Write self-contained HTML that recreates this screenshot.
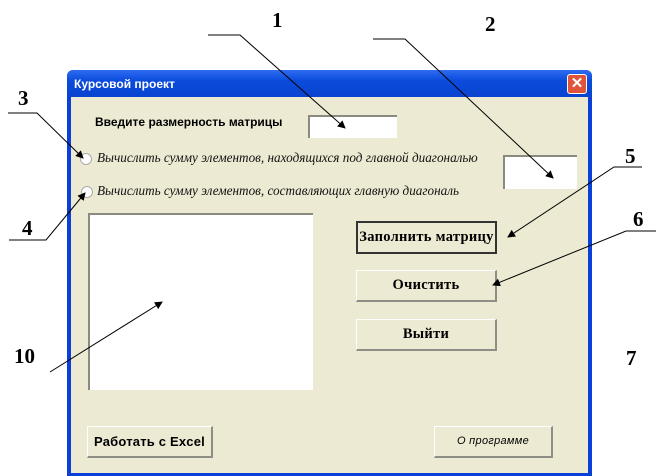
<!DOCTYPE html>
<html><head><meta charset="utf-8"><style>
*{margin:0;padding:0;box-sizing:border-box}
body{width:656px;height:476px;background:#fff;position:relative;overflow:hidden;font-family:"Liberation Sans",sans-serif}
.a{position:absolute}
#win{left:67px;top:70px;width:525px;height:406px;background:#0a3fd8;border-radius:6px 6px 0 0}
#title{left:67px;top:70px;width:525px;height:27px;background:linear-gradient(#2e6cf0,#0b4bdc 40%,#0a44d0);border-radius:6px 6px 0 0}
#body{left:71px;top:97px;width:517px;height:376px;background:#ecead2}
.tb{background:#fff;border-top:2px solid #8a8a80;border-left:2px solid #8a8a80}
.btn{background:#ecead2;border-right:2px solid #8e8e86;border-bottom:2px solid #8e8e86;border-top:1px solid #fff;border-left:1px solid #fff;text-align:center;font-weight:bold;font-size:14.5px;letter-spacing:0.3px;font-family:"Liberation Serif",serif;white-space:nowrap}
.rad{width:12px;height:12px;border-radius:50%;background:#fff;border:1px solid #aaa}
.it{font-family:"Liberation Serif",serif;font-style:italic;font-size:13.2px;color:#111;white-space:nowrap}
.n{font-family:"Liberation Serif",serif;font-weight:bold;font-size:21px;color:#000}
</style></head><body>
<div class="a" id="win"></div>
<div class="a" id="title"></div>
<div class="a" style="left:74px;top:77px;color:#fff;font-weight:bold;font-size:12px">Курсовой проект</div>
<div class="a" style="left:567px;top:74px;width:20px;height:20px;background:#e0553a;border:1px solid #fff;border-radius:3px;color:#fff;font-size:15px;font-weight:bold;text-align:center;line-height:18px">✕</div>
<div class="a" id="body"></div>
<div class="a" style="left:95px;top:115px;font-weight:bold;font-size:12px;white-space:nowrap">Введите размерность матрицы</div>
<div class="a tb" style="left:308px;top:115px;width:89px;height:23px"></div>
<div class="a rad" style="left:80px;top:153px"></div>
<div class="a it" style="left:97px;top:150px">Вычислить сумму элементов, находящихся под главной диагональю</div>
<div class="a tb" style="left:503px;top:155px;width:74px;height:34px"></div>
<div class="a rad" style="left:81px;top:186px"></div>
<div class="a it" style="left:97px;top:183px">Вычислить сумму элементов, составляющих главную диагональ</div>
<div class="a tb" style="left:88px;top:213px;width:225px;height:177px"></div>
<div class="a btn" style="left:356px;top:221px;width:141px;height:33px;line-height:29px;border:2px solid #333">Заполнить матрицу</div>
<div class="a btn" style="left:356px;top:270px;width:141px;height:32px;line-height:29px">Очистить</div>
<div class="a btn" style="left:356px;top:319px;width:141px;height:32px;line-height:29px">Выйти</div>
<div class="a btn" style="left:87px;top:426px;width:126px;height:32px;line-height:29px;font-family:'Liberation Sans',sans-serif;font-size:13px;letter-spacing:0.2px">Работать с Excel</div>
<div class="a btn" style="left:434px;top:426px;width:119px;height:32px;line-height:29px;font-weight:normal;font-style:italic;font-family:'Liberation Sans',sans-serif;font-size:11px">О программе</div>
<div class="a n" style="left:272px;top:8px">1</div>
<div class="a n" style="left:485px;top:12px">2</div>
<div class="a n" style="left:18px;top:86px">3</div>
<div class="a n" style="left:22px;top:216px">4</div>
<div class="a n" style="left:625px;top:144px">5</div>
<div class="a n" style="left:633px;top:207px">6</div>
<div class="a n" style="left:626px;top:346px">7</div>
<div class="a n" style="left:14px;top:344px">10</div>
<svg class="a" style="left:0;top:0" width="656" height="476">
<defs><marker id="m" markerWidth="8" markerHeight="8" refX="7" refY="4" orient="auto" markerUnits="userSpaceOnUse"><path d="M0,0L8,4L0,8z" fill="#000"/></marker></defs>
<g stroke="#000" stroke-width="1" fill="none">
<path d="M208,35H240L345,128" marker-end="url(#m)"/>
<path d="M373,39H405L553,178" marker-end="url(#m)"/>
<path d="M8,113H37L83,158" marker-end="url(#m)"/>
<path d="M9,240H46L85,193" marker-end="url(#m)"/>
<path d="M642,167H614L508,237" marker-end="url(#m)"/>
<path d="M656,231H626L493,285" marker-end="url(#m)"/>
<path d="M50,372L162,302" marker-end="url(#m)"/>
</g></svg>
</body></html>
